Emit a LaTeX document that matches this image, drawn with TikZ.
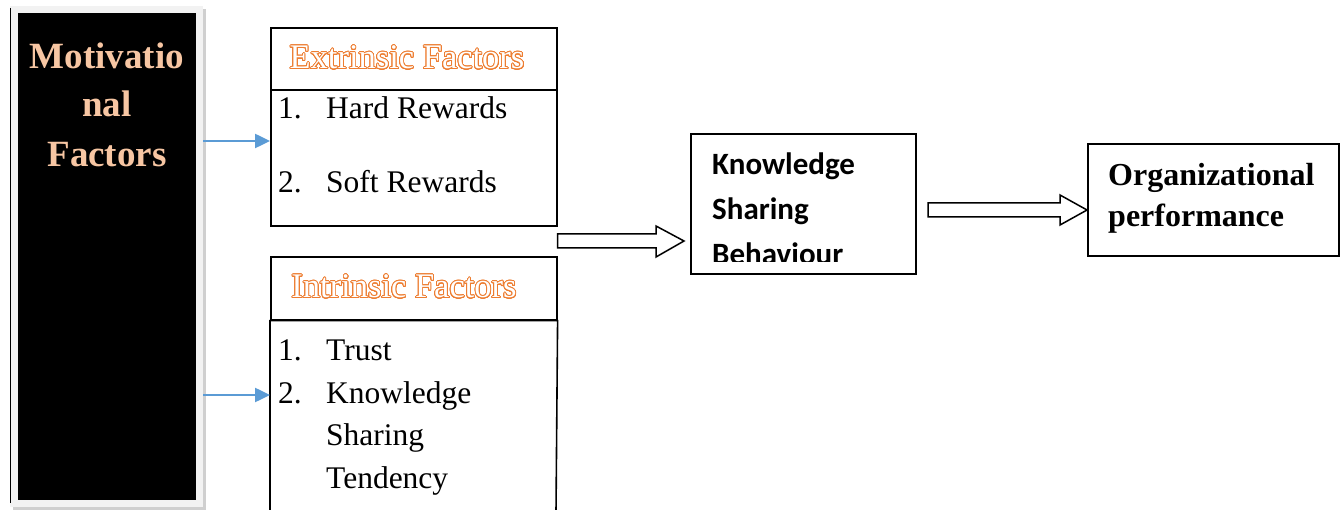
\documentclass[tikz,border=0pt]{standalone}
\usepackage{fontspec}
\setmainfont{Liberation Serif}
\newfontfamily\calibri{Carlito}
\usepackage[copies]{contour}
\contourlength{0.85pt}
\contournumber{32}
\usetikzlibrary{arrows.meta,calc}
\definecolor{peach}{HTML}{F7C6A3}
\definecolor{outorange}{HTML}{ED7D31}
\definecolor{linkblue}{HTML}{5B9BD5}
\definecolor{framegray}{HTML}{F2F2F2}
\definecolor{shadegray}{HTML}{CFCFCF}
\begin{document}
\begin{tikzpicture}[x=1pt,y=-1pt,
  box/.style={draw=black,line width=1.6pt,anchor=north west,inner sep=0pt},
  headtext/.style={font=\fontsize{34.5}{40}\selectfont,text=white},
  listtext/.style={font=\fontsize{31.5}{38}\selectfont,anchor=base west,inner sep=0pt},
  mottext/.style={font=\bfseries\fontsize{37}{44}\selectfont,text=peach,anchor=base,inner sep=0pt},
  ksbtext/.style={font=\calibri\bfseries\fontsize{31}{38}\selectfont,anchor=base west,inner sep=0pt},
  orgtext/.style={font=\bfseries\fontsize{32}{38}\selectfont,anchor=base west,inner sep=0pt},
  link/.style={draw=linkblue,line width=2.5pt,-{Triangle[length=15pt,width=14pt]}},
  hollow/.style={draw=black,line width=1.5pt,fill=white,line join=miter}
]
\useasboundingbox (0,0) rectangle (1341,510);

% left panel
\fill[shadegray] (13,9) rectangle (206,510);
\node[fill=framegray,anchor=north west,inner sep=0pt,minimum width=193pt,minimum height=501pt] (motframe) at (10,6) {};
\node[fill=black,anchor=north west,inner sep=0pt,minimum width=178pt,minimum height=487pt] (motbox) at (18,13) {};
\draw[line width=1pt] ($(motframe.north west)+(0,2)$) -- ($(motframe.south west)+(0,-4)$);
\node[mottext] (mot1) at (107,69) {Motivatio};
\node[mottext] (mot2) at (107,117) {nal};
\node[mottext] (mot3) at (107,167) {Factors};

% extrinsic
\node[box,minimum width=286pt,minimum height=62pt] (exthead) at (270,27) {};
\node[headtext] (exttitle) at (407,58) {\contour{outorange}{Extrinsic Factors}};
\node[box,minimum width=286pt,minimum height=136pt] (extbody) at (270,89) {};
\node[listtext] (e1n) at (278,119) {1.};
\node[listtext] (e1) at (326,119) {Hard Rewards};
\node[listtext] (e2n) at (278,193) {2.};
\node[listtext] (e2) at (326,193) {Soft Rewards};

% intrinsic
\node[box,minimum width=286pt,minimum height=63pt] (inthead) at (270,256) {};
\node[headtext] (inttitle) at (404,287) {\contour{outorange}{Intrinsic Factors}};
\coordinate (intbl) at (270,512);
\coordinate (intbr) at (556,512);
\draw[line width=1.6pt] (intbl) -- (inthead.south west) -- (inthead.south east) -- (intbr);
\node[listtext] (i1n) at (278,361) {1.};
\node[listtext] (i1) at (326,361) {Trust};
\node[listtext] (i2n) at (278,403) {2.};
\node[listtext] (i2) at (326,403) {Knowledge};
\node[listtext] (i3) at (326,445) {Sharing};
\node[listtext] (i4) at (326,488) {Tendency};

% blue arrows
\coordinate (s1) at (203,141);
\coordinate (s2) at (203,395);
\draw[link] (s1) -- (s1 -| extbody.west);
\draw[link] (s2) -- (s2 -| inthead.west);

% knowledge sharing behaviour
\node[box,minimum width=225pt,minimum height=140pt] (ksb) at (690,133) {};
\begin{scope}
\clip (690,133) rectangle (915,262);
\node[ksbtext] (k1) at (712,175) {Knowledge};
\node[ksbtext] (k2) at (712,220) {Sharing};
\node[ksbtext] (k3) at (712,265) {Behaviour};
\end{scope}

% organizational performance
\node[box,minimum width=251pt,minimum height=112pt] (org) at (1087,143) {};
\node[orgtext] (o1) at (1108,186) {Organizational};
\node[orgtext] (o2) at (1108,227) {performance};

% hollow arrows
\draw[hollow] (extbody.south east |- 0,234) -- (656,234) -- (656,226) -- (684,241) -- (656,257) -- (656,248) -- (extbody.south east |- 0,248) -- cycle;
\draw[hollow] (928,203) -- (1060,203) -- (1060,195) -- (org.west |- 0,210) -- (1060,225) -- (1060,217) -- (928,217) -- cycle;
\end{tikzpicture}
\end{document}
